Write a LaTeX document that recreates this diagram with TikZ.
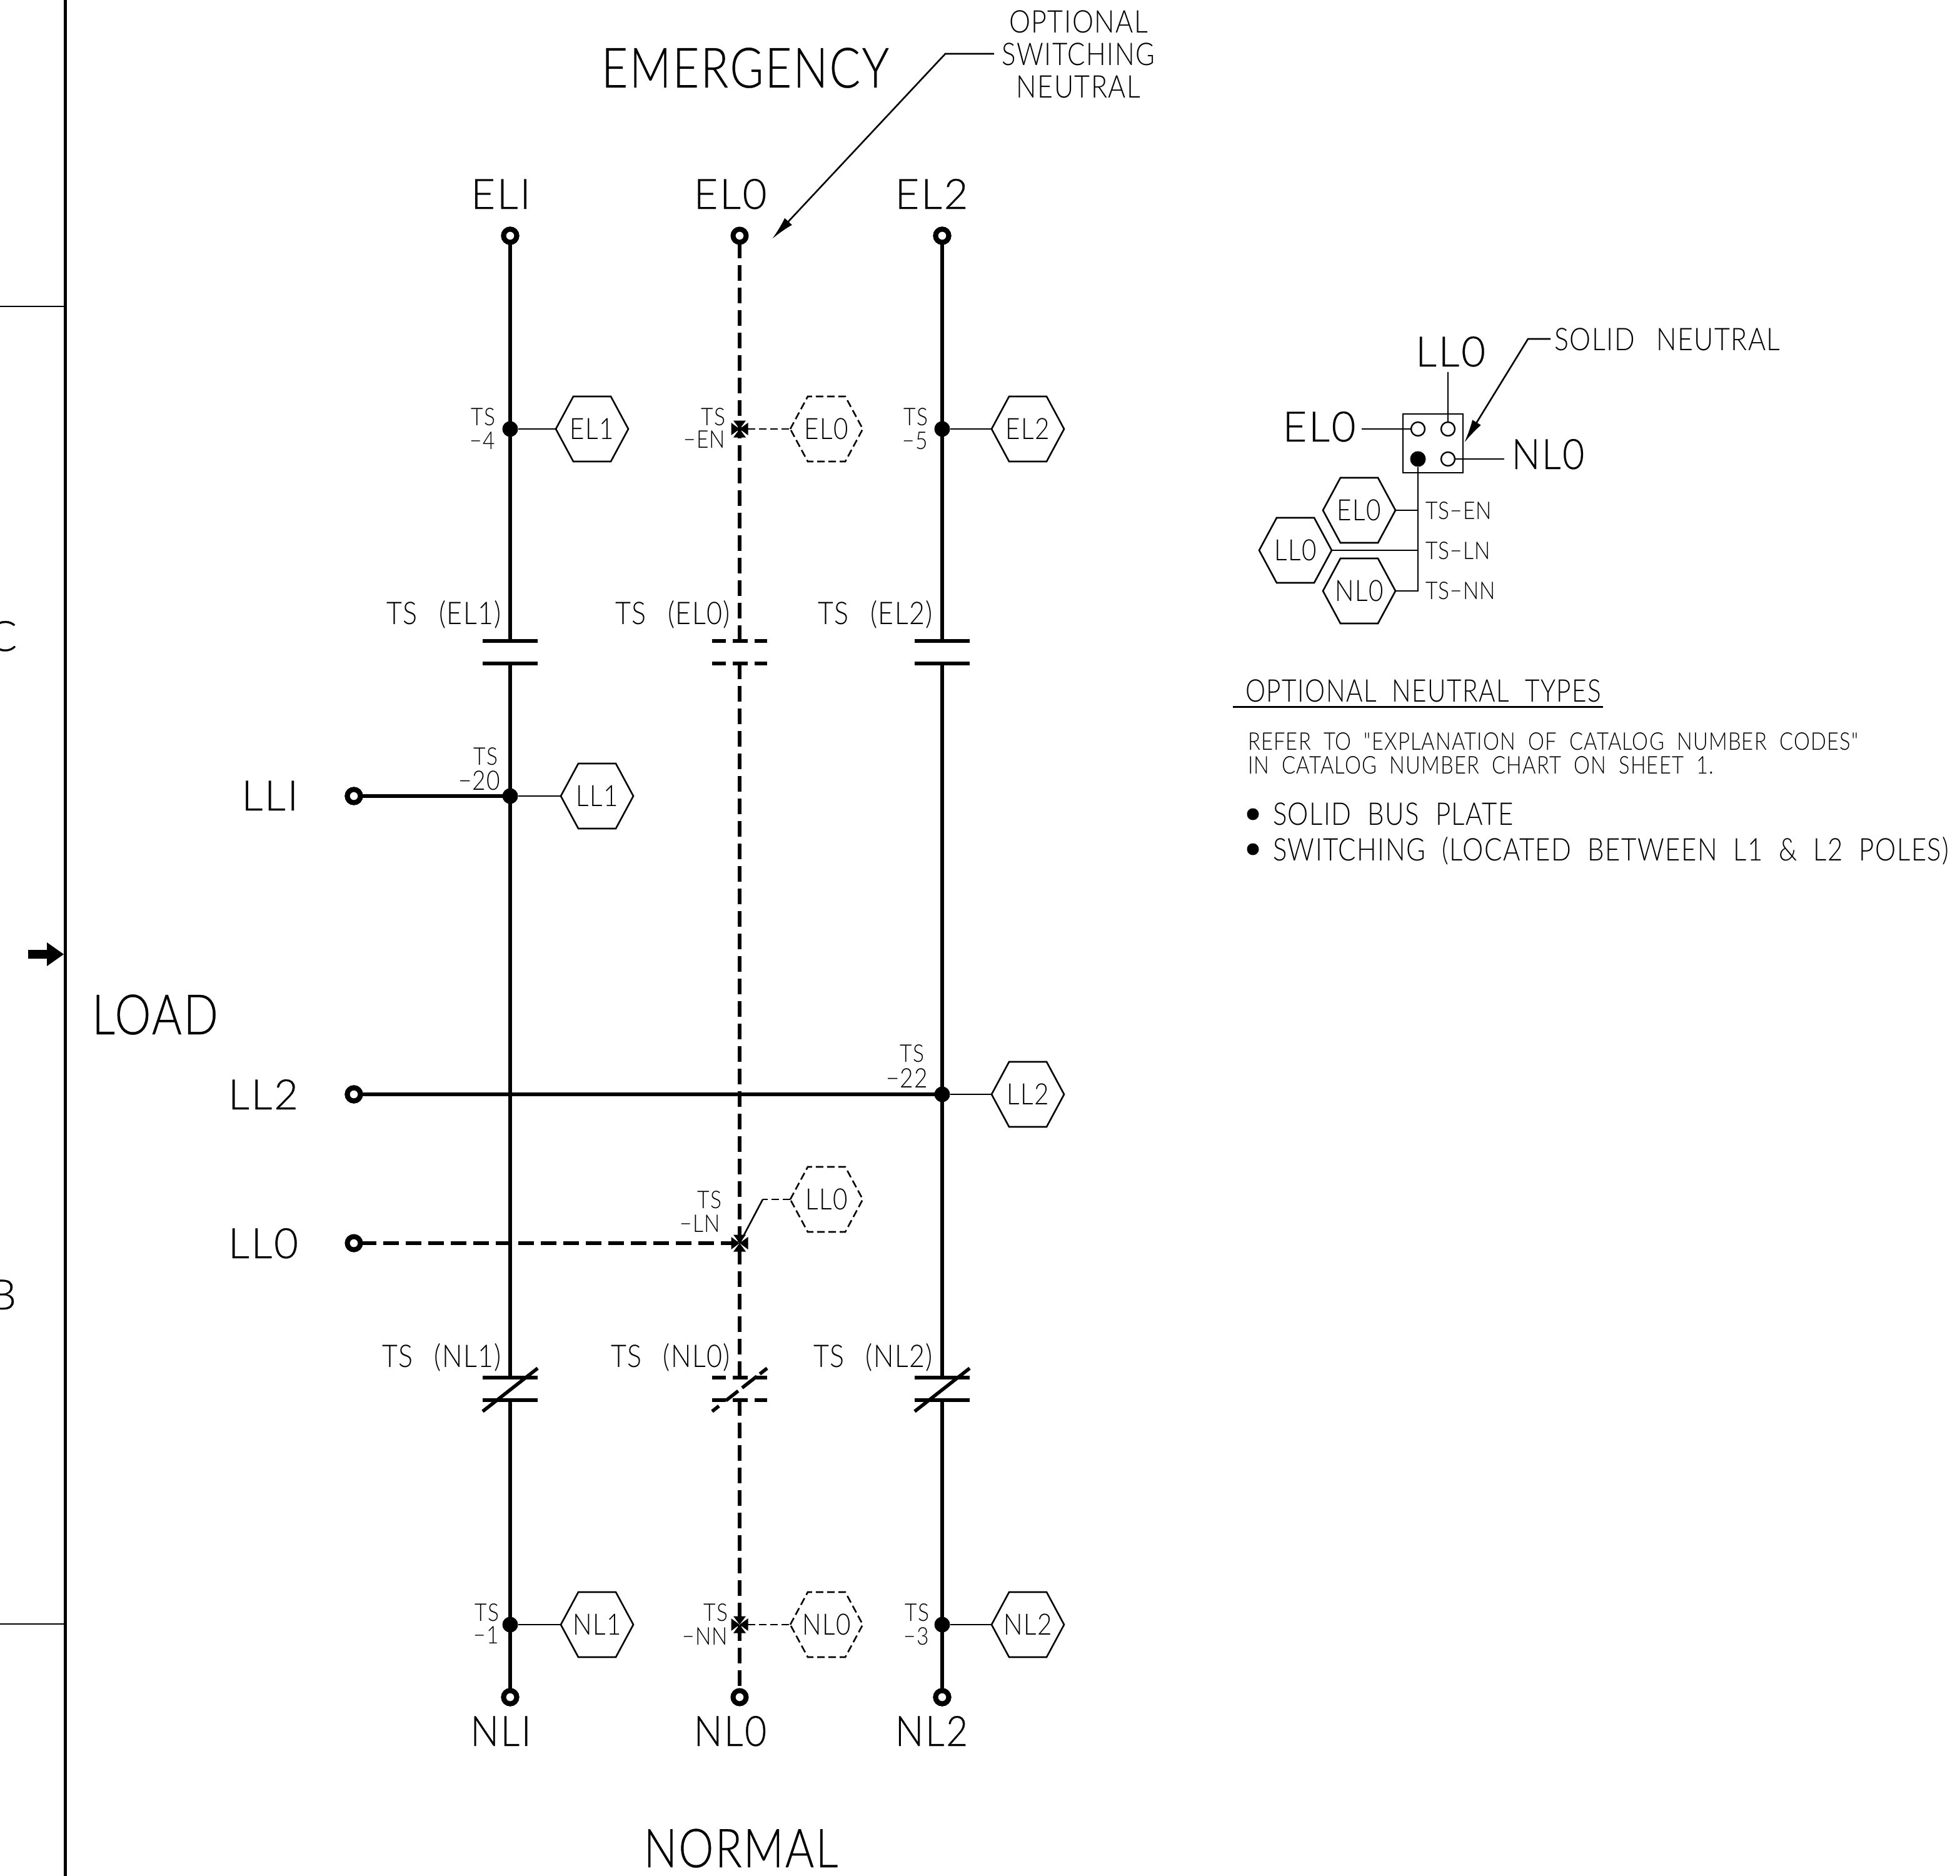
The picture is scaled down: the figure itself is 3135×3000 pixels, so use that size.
\documentclass[tikz,border=0pt]{standalone}
\usepackage{fontspec}
\usetikzlibrary{arrows.meta}
\newfontfamily\cad[FakeStretch=0.86,LetterSpace=3]{Lato Light}
\newfontfamily\cadbig[FakeStretch=0.82,LetterSpace=3,FakeBold=0.4]{Lato Light}
\newfontfamily\cadlab[FakeStretch=1.0,LetterSpace=4,FakeBold=0.4]{Lato Light}
\newfontfamily\cadlabn[FakeStretch=0.9,LetterSpace=4,FakeBold=0.4]{Lato Light}
\newfontfamily\cadnote[FakeStretch=0.84,LetterSpace=3]{Lato Light}
\newfontfamily\cadhead[FakeStretch=0.81,LetterSpace=3]{Lato Light}
\tikzset{
 cadbase/.style={inner sep=0pt,outer sep=0pt,text depth=0pt},
 tbig/.style={cadbase,text height=64pt,font=\cadbig\fontsize{89}{89}\selectfont},
 tbign/.style={cadbase,text height=64pt,font=\cadbig\fontsize{86}{86}\selectfont},
 tlab/.style={cadbase,yshift=2pt,text height=48pt,font=\cadlab\fontsize{67}{67}\selectfont},
 tlabn/.style={cadbase,yshift=2pt,text height=48pt,font=\cadlabn\fontsize{67}{67}\selectfont},
 tmid/.style={cadbase,yshift=1.5pt,text height=36pt,font=\cad\fontsize{50}{50}\selectfont},
 tnote/.style={cadbase,yshift=1.5pt,text height=36pt,font=\cadnote\fontsize{50}{50}\selectfont},
 thead/.style={cadbase,yshift=1.5pt,text height=36pt,font=\cadhead\fontsize{50}{50}\selectfont},
 thex/.style={cadbase,text height=32pt,font=\cad\fontsize{47}{47}\selectfont},
 tsmall/.style={cadbase,text height=28pt,font=\cad\fontsize{39}{39}\selectfont},
 trefer/.style={cadbase,text height=28pt,font=\cadnote\fontsize{39}{39}\selectfont},
 tnum/.style={cadbase,text height=31pt,font=\cad\fontsize{43}{43}\selectfont},
 thin/.style={line width=2.6pt},
 thindash/.style={line width=2.6pt,dash pattern=on 12pt off 6pt},
 bus/.style={line width=5.5pt},
 busdash/.style={line width=5.5pt,dash pattern=on 25pt off 11pt},
 term/.style={circle,draw,fill=white,line width=8pt,minimum size=21pt,inner sep=0pt,outer sep=0pt},
 jdot/.style={circle,fill=black,minimum size=25pt,inner sep=0pt,outer sep=0pt},
 jstar/.style={circle,minimum size=25pt,inner sep=0pt,outer sep=0pt},
 hexbox/.style={thex,minimum width=116pt,minimum height=104pt,text height=32pt},
 pin/.style={circle,draw,line width=2.4pt,minimum size=22pt,inner sep=0pt,outer sep=0pt},
 pinfill/.style={circle,fill=black,minimum size=25pt,inner sep=0pt,outer sep=0pt},
}
% hexagon outline round a node
\newcommand\hexo[2]{\draw[#2,line join=miter] (#1.west) -- ([xshift=28pt]#1.north west) -- ([xshift=-28pt]#1.north east) -- (#1.east) -- ([xshift=-28pt]#1.south east) -- ([xshift=28pt]#1.south west) -- cycle;}
% switching junction: four wedges pointing at the centre
\newcommand\starj[1]{\foreach \a in {0,90,180,270}{\fill[rotate around={\a:(#1.center)}] (#1.center) -- ([xshift=13.5pt,yshift=-10pt]#1.center) -- ([xshift=13.5pt,yshift=10pt]#1.center) -- cycle;}}
\newcommand\gapTS{~~\hspace{8pt}}
\begin{document}
\begin{tikzpicture}[x=1pt,y=-1pt]
\useasboundingbox (0,0) rectangle (3135,3000);

% sheet border
\coordinate (bt) at (104,0); \coordinate (bb) at (104,3000);
\draw[line width=5pt] (bt) -- (bb);
\coordinate (t1a) at (0,490); \coordinate (t1b) at (104,490);
\coordinate (t2a) at (0,2597); \coordinate (t2b) at (104,2597);
\draw[thin] (t1a) -- (t1b);
\draw[thin] (t2a) -- (t2b);
\node[tlab,anchor=east] (zoneC) at (27,1019) {C};
\node[tlab,anchor=east] (zoneB) at (26,2072) {B};
\fill (45,1519) -- (75,1519) -- (75,1507) -- (102,1526) -- (75,1545) -- (75,1533) -- (45,1533) -- cycle;

% headings
\node[tbig] (emerg) at (1192,108) {EMERGENCY};
\node[tbign] (normal) at (1185,2954) {NORMAL};
\node[tbig] (load) at (248,1622) {LOAD};
\node[tmid] (opt1) at (1725,36) {OPTIONAL};
\node[tnote] (opt2) at (1725,88) {SWITCHING};
\node[tmid] (opt3) at (1725,140) {NEUTRAL};

% terminal labels
\node[tlab] (lEL1) at (801,312) {ELI};
\node[tlab] (lEL0) at (1168,312) {EL0};
\node[tlab] (lEL2) at (1490,312) {EL2};
\node[tlabn] (lNL1) at (801,2770) {NLI};
\node[tlabn] (lNL0) at (1168,2770) {NL0};
\node[tlabn] (lNL2) at (1490,2770) {NL2};
\node[tlab,anchor=east] (lLL1) at (477,1274) {LLI};
\node[tlab,anchor=east] (lLL2) at (477,1752) {LL2};
\node[tlab,anchor=east] (lLL0) at (477,1990) {LL0};

% terminals
\node[term] (tE1) at (816,377) {};
\node[term] (tE0) at (1183,377) {};
\node[term] (tE2) at (1507,377) {};
\node[term] (tN1) at (816,2714) {};
\node[term] (tN0) at (1183,2714) {};
\node[term] (tN2) at (1507,2714) {};
\node[term] (tL1) at (566,1273) {};
\node[term] (tL2) at (566,1750) {};
\node[term] (tL0) at (566,1988) {};

% junctions
\node[jdot] (jE1) at (816,686) {};
\node[jdot] (jE2) at (1507,686) {};
\node[jdot] (jL1) at (816,1273) {};
\node[jdot] (jL2) at (1507,1750) {};
\node[jdot] (jN1) at (816,2598) {};
\node[jdot] (jN2) at (1507,2598) {};
\node[jstar] (jE0) at (1183,686) {};
\node[jstar] (jL0) at (1183,1988) {};
\node[jstar] (jN0) at (1183,2598) {};
\starj{jE0}\starj{jL0}\starj{jN0}

% contacts
\foreach \n/\x in {1/816,0/1183,2/1507}{
  \coordinate (eA\n) at (\x,1025); \coordinate (eB\n) at (\x,1061);
  \coordinate (nA\n) at (\x,2203); \coordinate (nB\n) at (\x,2239);
}
\foreach \n in {1,2}{
  \draw[bus] ([xshift=-44pt]eA\n) -- ([xshift=44pt]eA\n);
  \draw[bus] ([xshift=-44pt]eB\n) -- ([xshift=44pt]eB\n);
  \draw[bus] ([xshift=-44pt]nA\n) -- ([xshift=44pt]nA\n);
  \draw[bus] ([xshift=-44pt]nB\n) -- ([xshift=44pt]nB\n);
  \draw[bus] ([xshift=-44pt,yshift=-54pt]nA\n) -- ([xshift=44pt,yshift=15pt]nA\n);
}
\tikzset{bardash/.style={line width=5.5pt,dash pattern=on 22pt off 11pt on 24pt off 11pt on 22pt off 0pt}}
\draw[bardash] ([xshift=-44pt]eA0) -- ([xshift=44pt]eA0);
\draw[bardash] ([xshift=-44pt]eB0) -- ([xshift=44pt]eB0);
\draw[bardash] ([xshift=-44pt]nA0) -- ([xshift=44pt]nA0);
\draw[bardash] ([xshift=-44pt]nB0) -- ([xshift=44pt]nB0);
\draw[line width=5.5pt,dash pattern=on 14pt off 14pt on 25pt off 8pt on 30pt off 6pt on 15pt off 0pt] ([xshift=-44pt,yshift=-54pt]nA0) -- ([xshift=44pt,yshift=15pt]nA0);

% solid buses
\draw[bus] (tE1) -- (eA1);
\draw[bus] (eB1) -- (nA1);
\draw[bus] (nB1) -- (tN1);
\draw[bus] (tE2) -- (eA2);
\draw[bus] (eB2) -- (nA2);
\draw[bus] (nB2) -- (tN2);
\draw[bus] (tL1) -- (jL1);
\draw[bus] (tL2) -- (jL2);
% dashed neutral
\draw[busdash] (tE0.south) -- (eA0);
\draw[busdash] (eB0) -- (nA0);
\draw[busdash] (nB0) -- (tN0.north);
\draw[busdash] (tL0.east) -- (jL0.west);
% redraw terminals so that buses stay behind the rings
\foreach \t in {tE1,tE2,tN1,tN2,tL1,tL2}{\draw[line width=8pt,fill=white] (\t) circle (10.5pt);}

% hexagon tags
\foreach \nm/\x/\y/\t in {hE1/947/686/EL1,hE2/1644/686/EL2,hL1/955/1273/LL1,hL2/1644/1750/LL2,hN1/955/2598/NL1,hN2/1644/2598/NL2}{
  \node[hexbox] (\nm) at (\x,\y) {\t};
  \hexo{\nm}{thin}
}
\foreach \nm/\x/\y/\t in {hE0/1322/686/EL0,hL0/1322/1918/LL0,hN0/1322/2598/NL0}{
  \node[hexbox] (\nm) at (\x,\y) {\t};
  \hexo{\nm}{thindash}
}
\draw[thin] (jE1) -- (hE1.west);
\draw[thin] (jE2) -- (hE2.west);
\draw[thin] (jL1) -- (hL1.west);
\draw[thin] (jL2) -- (hL2.west);
\draw[thin] (jN1) -- (hN1.west);
\draw[thin] (jN2) -- (hN2.west);
\draw[thindash] (jE0.east) -- (hE0.west);
\draw[thindash] (jN0.east) -- (hN0.west);
\coordinate (kL0) at (1220,1918);
\draw[thindash] (hL0.west) -- (kL0);
\draw[thin] (kL0) -- (jL0.center);

% contact labels
\node[tmid,anchor=east] (cE1) at (802,982) {TS\gapTS(EL1)};
\node[tmid,anchor=east] (cE0) at (1168,982) {TS\gapTS(EL0)};
\node[tmid,anchor=east] (cE2) at (1492,982) {TS\gapTS(EL2)};
\node[tmid,anchor=east] (cN1) at (802,2170) {TS\gapTS(NL1)};
\node[tmid,anchor=east] (cN0) at (1168,2170) {TS\gapTS(NL0)};
\node[tmid,anchor=east] (cN2) at (1492,2170) {TS\gapTS(NL2)};

% wire numbers
\node[tsmall,anchor=east] (w1a) at (792,666) {TS};
\node[tsmall,anchor=east] (w1b) at (792,704) {−4};
\node[tsmall,anchor=east] (w2a) at (1160,666) {TS};
\node[tsmall,anchor=east] (w2b) at (1160,702) {−EN};
\node[tsmall,anchor=east] (w3a) at (1484,666) {TS};
\node[tsmall,anchor=east] (w3b) at (1484,704) {−5};
\node[tsmall,anchor=east] (w4a) at (796,1209) {TS};
\node[tnum,anchor=east] (w4b) at (800,1248) {−20};
\node[tsmall,anchor=east] (w5a) at (1478,1684) {TS};
\node[tnum,anchor=east] (w5b) at (1484,1724) {−22};
\node[tsmall,anchor=east] (w6a) at (1154,1918) {TS};
\node[tsmall,anchor=east] (w6b) at (1152,1956) {−LN};
\node[tsmall,anchor=east] (w7a) at (798,2578) {TS};
\node[tsmall,anchor=east] (w7b) at (798,2614) {−1};
\node[tsmall,anchor=east] (w8a) at (1164,2578) {TS};
\node[tsmall,anchor=east] (w8b) at (1164,2616) {−NN};
\node[tsmall,anchor=east] (w9a) at (1486,2578) {TS};
\node[tsmall,anchor=east] (w9b) at (1486,2616) {−3};

% leader to the neutral
\coordinate (ldA) at (1590,86); \coordinate (ldB) at (1512,86); \coordinate (ldC) at (1235,382);
\draw[thin,-{Latex[length=38pt,width=16pt]}] (ldA) -- (ldB) -- (ldC);

% neutral detail
\node[draw,line width=2.4pt,minimum width=96pt,minimum height=94pt,inner sep=0pt,outer sep=0pt] (box) at (2292,709) {};
\node[pin] (p1) at (2268,686) {};
\node[pin] (p2) at (2316,686) {};
\node[pinfill] (p3) at (2268,734) {};
\node[pin] (p4) at (2316,734) {};
\node[tlab] (dLL) at (2320,564) {LL0};
\node[tlab] (dEL) at (2110,684) {EL0};
\node[tlabn] (dNL) at (2476,728) {NL0};
\coordinate (aLL) at (2316,595); \coordinate (aEL) at (2178,686); \coordinate (aNL) at (2406,734);
\draw[thin] (aLL) -- (p2);
\draw[thin] (aEL) -- (p1);
\draw[thin] (aNL) -- (p4);
\node[hexbox] (dh1) at (2174,816) {EL0}; \hexo{dh1}{thin}
\node[hexbox] (dh2) at (2072,880) {LL0}; \hexo{dh2}{thin}
\node[hexbox] (dh3) at (2174,945) {NL0}; \hexo{dh3}{thin}
\coordinate (s1) at (2268,816); \coordinate (s2) at (2268,880); \coordinate (s3) at (2268,945);
\draw[thin] (p3) -- (s3) -- (dh3.east);
\draw[thin] (s1) -- (dh1.east);
\draw[thin] (s2) -- (dh2.east);
\node[tsmall,anchor=west] (n1) at (2280,816) {TS−EN};
\node[tsmall,anchor=west] (n2) at (2280,880) {TS−LN};
\node[tsmall,anchor=west] (n3) at (2280,944) {TS−NN};
\node[tmid,anchor=west] (solid) at (2486,544) {SOLID\gapTS NEUTRAL};
\coordinate (snA) at (2480,542); \coordinate (snB) at (2444,542); \coordinate (snC) at (2342,708);
\draw[thin,-{Latex[length=38pt,width=16pt]}] (snA) -- (snB) -- (snC);

% notes
\node[thead,anchor=west] (types) at (1992,1106) {OPTIONAL~~NEUTRAL~~TYPES};
\coordinate (uA) at (1972,1130); \coordinate (uB) at (2564,1130);
\draw[thin,line width=3pt] (uA) -- (uB);
\node[trefer,anchor=west] (refa) at (1996,1185) {REFER~~TO~~"EXPLANATION~~OF~~CATALOG~~NUMBER~~CODES"};
\node[trefer,anchor=west] (refb) at (1996,1223) {IN~~CATALOG~~NUMBER~~CHART~~ON~~SHEET~~1.};
\node[circle,fill=black,minimum size=19pt,inner sep=0pt] (b1) at (2004,1302) {};
\node[circle,fill=black,minimum size=19pt,inner sep=0pt] (b2) at (2004,1358) {};
\node[tnote,anchor=west] (s1t) at (2036,1303) {SOLID~~BUS~~PLATE};
\node[tnote,anchor=west] (s2t) at (2036,1360) {SWITCHING~~(LOCATED~~BETWEEN~~L1~~\&~~L2~~POLES)};
\end{tikzpicture}
\end{document}
